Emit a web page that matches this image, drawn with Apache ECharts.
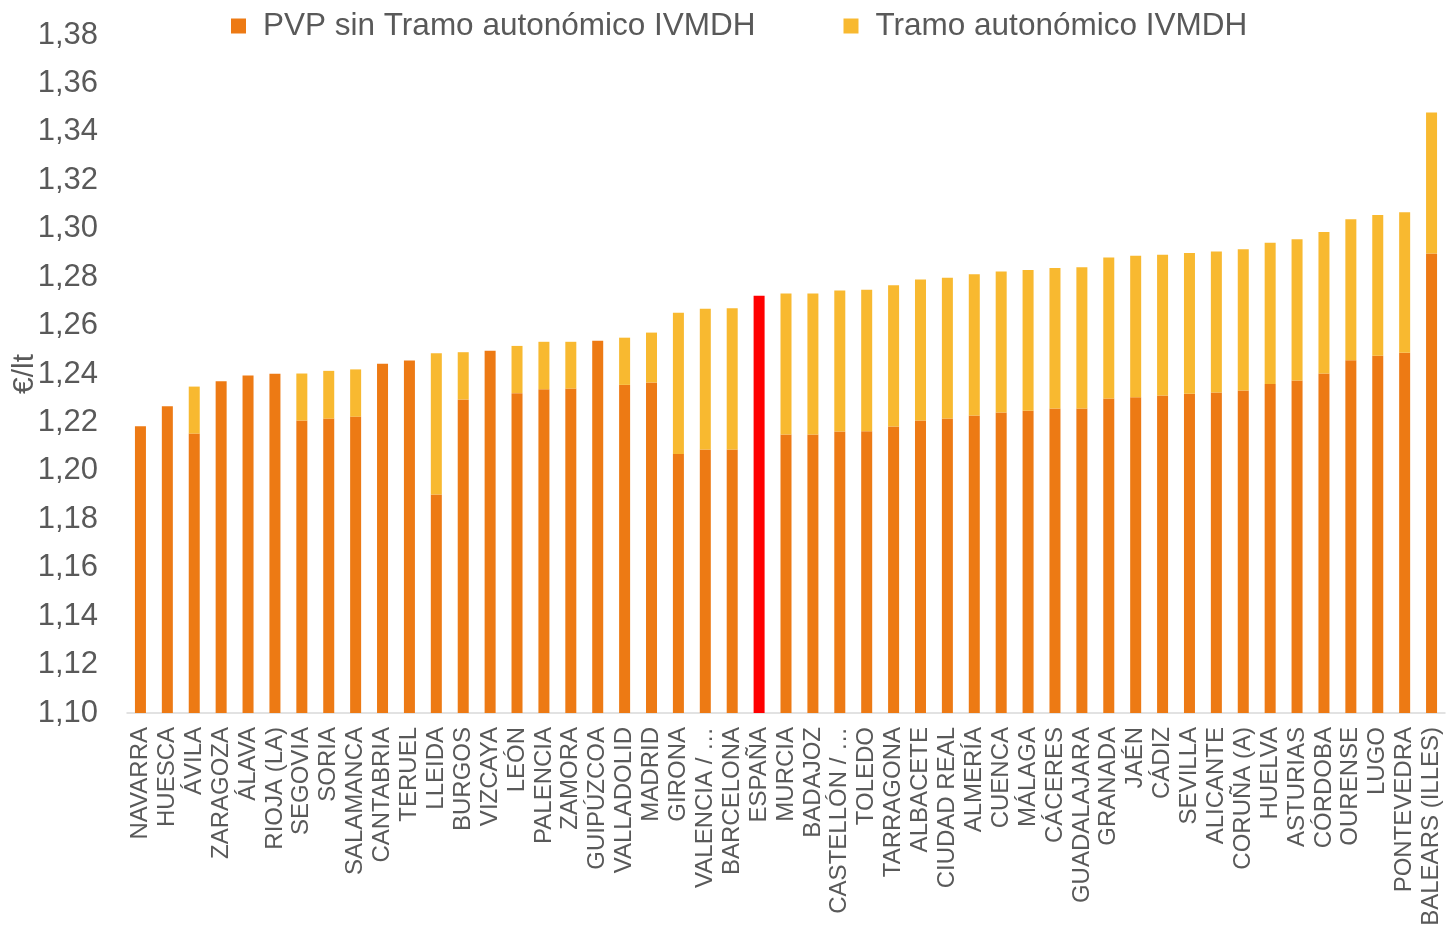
<!DOCTYPE html>
<html>
<head>
<meta charset="utf-8">
<script src="https://cdn.jsdelivr.net/npm/echarts@6/dist/echarts.min.js"></script>
<style>
  html, body { margin: 0; padding: 0; background: #ffffff; }
  #chart { width: 1446px; height: 927px; }
</style>
</head>
<body>
<div id="chart"></div>
<script>
    // provincias ordenadas por precio total
    const provincias = [
        'NAVARRA', 'HUESCA', 'ÁVILA', 'ZARAGOZA', 'ÁLAVA', 'RIOJA (LA)', 'SEGOVIA', 'SORIA',
        'SALAMANCA', 'CANTABRIA', 'TERUEL', 'LLEIDA', 'BURGOS', 'VIZCAYA', 'LEÓN', 'PALENCIA',
        'ZAMORA', 'GUIPÚZCOA', 'VALLADOLID', 'MADRID', 'GIRONA', 'VALENCIA / …', 'BARCELONA', 'ESPAÑA',
        'MURCIA', 'BADAJOZ', 'CASTELLÓN / …', 'TOLEDO', 'TARRAGONA', 'ALBACETE', 'CIUDAD REAL', 'ALMERÍA',
        'CUENCA', 'MÁLAGA', 'CÁCERES', 'GUADALAJARA', 'GRANADA', 'JAÉN', 'CÁDIZ', 'SEVILLA',
        'ALICANTE', 'CORUÑA (A)', 'HUELVA', 'ASTURIAS', 'CÓRDOBA', 'OURENSE', 'LUGO', 'PONTEVEDRA',
        'BALEARS (ILLES)'
    ];

    // PVP sin tramo autonómico (€/lt)
    const pvpSinTramo = [
        1.2184, 1.2267, 1.2154, 1.2370, 1.2394, 1.2401, 1.2208, 1.2216,
        1.2224, 1.2442, 1.2456, 1.1902, 1.2295, 1.2496, 1.2321, 1.2337,
        1.2340, 1.2537, 1.2355, 1.2365, 1.2070, 1.2088, 1.2088, 1.2723,
        1.2150, 1.2150, 1.2163, 1.2164, 1.2183, 1.2208, 1.2216, 1.2229,
        1.2241, 1.2248, 1.2258, 1.2258, 1.2299, 1.2304, 1.2311, 1.2318,
        1.2324, 1.2332, 1.2359, 1.2373, 1.2402, 1.2457, 1.2475, 1.2488,
        1.2898
    ];

    // tramo autonómico IVMDH (€/lt)
    const tramoAutonomico = [
        0, 0, 0.0194, 0, 0, 0, 0.0194, 0.0197,
        0.0195, 0, 0, 0.0584, 0.0195, 0, 0.0195, 0.0196,
        0.0193, 0, 0.0195, 0.0206, 0.0583, 0.0581, 0.0584, 0,
        0.0582, 0.0582, 0.0582, 0.0584, 0.0584, 0.0582, 0.0581, 0.0583,
        0.0582, 0.0582, 0.0580, 0.0583, 0.0582, 0.0584, 0.0581, 0.0582,
        0.0582, 0.0583, 0.0583, 0.0584, 0.0584, 0.0582, 0.0582, 0.0580,
        0.0582
    ];

    const yTicks = { min: 1.10, max: 1.38, interval: 0.02 };

    const naranja = '#ED7A14';
    const amarillo = '#F8B930';
    const rojo = '#FF0000';
    const gris = '#595959';
    const fuente = 'Liberation Sans';

    const chart = echarts.init(document.getElementById('chart'));
    chart.setOption({
        animation: false,
        textStyle: { fontFamily: fuente },
        legend: {
            top: 5,
            left: 226,
            itemWidth: 15,
            itemHeight: 15,
            itemGap: 88,
            icon: 'rect',
            textStyle: { fontSize: 31.5, color: gris, fontFamily: fuente, padding: [0, 0, 0, 12] },
            data: ['PVP sin Tramo autonómico IVMDH', 'Tramo autonómico IVMDH']
        },
        grid: {
            left: 127,
            right: 1,
            top: 35,
            bottom: 214,
            outerBoundsMode: 'none'
        },
        xAxis: {
            type: 'category',
            data: provincias,
            axisTick: { show: false },
            axisLine: { lineStyle: { color: '#d9d9d9', width: 1.5 } },
            axisLabel: {
                interval: 0,
                rotate: 90,
                margin: 14,
                fontSize: 24,
                color: gris,
                fontFamily: fuente
            }
        },
        yAxis: {
            type: 'value',
            min: yTicks.min,
            max: yTicks.max,
            interval: yTicks.interval,
            name: '€/lt',
            nameLocation: 'middle',
            nameGap: 87,
            nameMoveOverlap: false,
            nameTextStyle: { fontSize: 30, color: gris, fontFamily: fuente },
            splitLine: { show: false },
            axisLine: { show: false },
            axisTick: { show: false },
            axisLabel: {
                margin: 29,
                fontSize: 31,
                color: gris,
                fontFamily: fuente,
                formatter: (v) => v.toFixed(2).replace('.', ',')
            }
        },
        series: [
            {
                name: 'PVP sin Tramo autonómico IVMDH',
                type: 'bar',
                stack: 'total',
                barWidth: 11,
                itemStyle: { color: naranja },
                data: pvpSinTramo.map((v, i) => {
                    return provincias[i] === 'ESPAÑA'
                        ? { value: v, itemStyle: { color: rojo } }
                        : v;
                })
            },
            {
                name: 'Tramo autonómico IVMDH',
                type: 'bar',
                stack: 'total',
                barWidth: 11,
                itemStyle: { color: amarillo },
                data: tramoAutonomico
            }
        ]
    });
</script>
</body>
</html>
